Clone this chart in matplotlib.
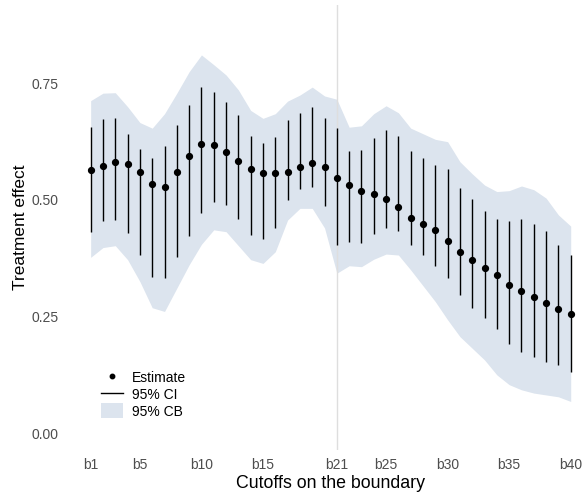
import matplotlib
matplotlib.use('Agg')
import matplotlib.pyplot as plt
from matplotlib.lines import Line2D
from matplotlib.patches import Patch
import numpy as np

plt.rcParams['font.family'] = ['Liberation Sans', 'DejaVu Sans']

# cutoffs b1..b40
cutoffs = [f'b{i}' for i in range(1, 41)]
tick_labels = ['b1', 'b5', 'b10', 'b15', 'b21', 'b25', 'b30', 'b35', 'b40']

est = [0.564, 0.572, 0.581, 0.577, 0.559, 0.535, 0.528, 0.559, 0.595, 0.619,
       0.617, 0.602, 0.584, 0.567, 0.557, 0.557, 0.560, 0.570, 0.580, 0.570,
       0.548, 0.532, 0.520, 0.513, 0.503, 0.484, 0.462, 0.449, 0.435, 0.413,
       0.389, 0.371, 0.354, 0.339, 0.318, 0.304, 0.292, 0.279, 0.267, 0.256]
ci_hi = [0.657, 0.674, 0.676, 0.642, 0.609, 0.590, 0.616, 0.661, 0.704, 0.742,
         0.731, 0.710, 0.682, 0.637, 0.622, 0.635, 0.672, 0.687, 0.700, 0.675,
         0.655, 0.605, 0.607, 0.633, 0.650, 0.637, 0.604, 0.590, 0.576, 0.567,
         0.526, 0.502, 0.476, 0.459, 0.454, 0.460, 0.449, 0.434, 0.403, 0.383]
ci_lo = [0.432, 0.454, 0.457, 0.429, 0.382, 0.334, 0.332, 0.377, 0.422, 0.472,
         0.496, 0.489, 0.459, 0.425, 0.416, 0.439, 0.501, 0.524, 0.528, 0.488,
         0.404, 0.409, 0.407, 0.426, 0.440, 0.434, 0.404, 0.381, 0.358, 0.332,
         0.297, 0.268, 0.247, 0.224, 0.191, 0.174, 0.164, 0.152, 0.146, 0.132]
cb_hi = [0.713, 0.729, 0.730, 0.700, 0.666, 0.654, 0.685, 0.729, 0.775, 0.811,
         0.790, 0.768, 0.736, 0.692, 0.675, 0.685, 0.712, 0.725, 0.742, 0.723,
         0.716, 0.656, 0.659, 0.685, 0.702, 0.687, 0.654, 0.642, 0.630, 0.625,
         0.582, 0.556, 0.532, 0.518, 0.520, 0.530, 0.522, 0.504, 0.468, 0.444]
cb_lo = [0.377, 0.398, 0.402, 0.372, 0.325, 0.269, 0.261, 0.311, 0.361, 0.405,
         0.436, 0.432, 0.402, 0.372, 0.364, 0.389, 0.457, 0.482, 0.482, 0.440,
         0.343, 0.359, 0.357, 0.373, 0.384, 0.382, 0.350, 0.316, 0.282, 0.243,
         0.207, 0.182, 0.157, 0.125, 0.104, 0.093, 0.086, 0.082, 0.078, 0.068]
vline_at = 'b21'

band_col = '#dce4ee'
text_grey = '#4d4d4d'

x = np.arange(1, len(cutoffs) + 1)

fig = plt.figure(figsize=(5.82, 4.92), dpi=100)
ax = fig.add_axes([0.1431, 0.0854, 0.8502, 0.9044])

ax.fill_between(x, cb_lo, cb_hi, color=band_col, lw=0, zorder=1)
ax.axvline(cutoffs.index(vline_at) + 1, color='#dedede', lw=1.0, zorder=2)
ax.vlines(x, ci_lo, ci_hi, color='black', lw=1.0, zorder=3)
ax.plot(x, est, 'o', color='black', ms=4.2, zorder=4)

ax.set_xlim(0.4, 40.6)
ax.set_ylim(-0.036, 0.918)
ax.set_xticks([cutoffs.index(t) + 1 for t in tick_labels])
ax.set_xticklabels(tick_labels)
ax.set_yticks([0, 0.25, 0.5, 0.75])
ax.set_yticklabels(['0.00', '0.25', '0.50', '0.75'])
ax.tick_params(axis='both', length=0, labelsize=10, colors=text_grey)
ax.tick_params(axis='y', pad=18)
ax.tick_params(axis='x', pad=6)
for s in ax.spines.values():
    s.set_visible(False)

ax.set_xlabel('Cutoffs on the boundary', fontsize=12.8, labelpad=2)
ax.set_ylabel('Treatment effect', fontsize=12.5, labelpad=2)

handles = [
    Line2D([], [], marker='o', ls='none', color='black', ms=3.2),
    Line2D([], [], color='black', lw=1.0),
    Patch(facecolor=band_col, edgecolor='none'),
]
ax.legend(handles, ['Estimate', '95% CI', '95% CB'], loc='lower left',
          bbox_to_anchor=(0.022, 0.055), frameon=False, fontsize=10,
          handlelength=1.6, handleheight=1.3, labelspacing=0.1,
          handletextpad=0.6, borderpad=0)

fig.savefig('out.png', dpi=100)
